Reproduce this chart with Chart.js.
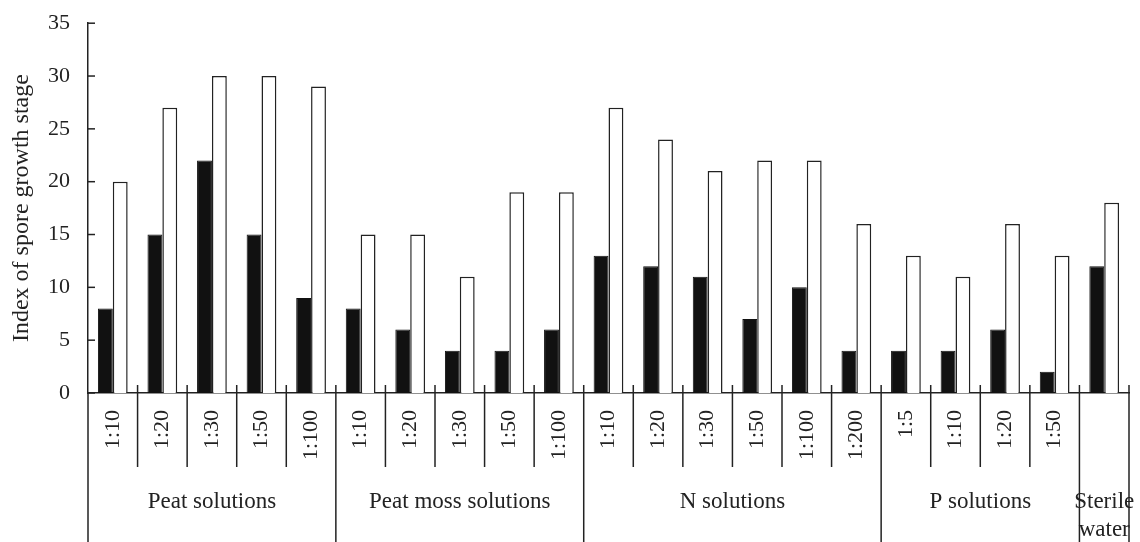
<!DOCTYPE html>
<html>
<head>
<meta charset="utf-8">
<script src="https://cdn.jsdelivr.net/npm/chart.js@4.4.0/dist/chart.umd.min.js"></script>
<style>
    body { margin: 0; background: #fff; }
    #wrap { width: 1140px; height: 542px; }
</style>
</head>
<body>
<div id="wrap"><canvas id="sporeChart"></canvas></div>
<script>
// Dilution labels along the x axis (sterile water has none)
const dilutions = ['1:10', '1:20', '1:30', '1:50', '1:100',
    '1:10', '1:20', '1:30', '1:50', '1:100',
    '1:10', '1:20', '1:30', '1:50', '1:100', '1:200',
    '1:5', '1:10', '1:20', '1:50',
    ''];
const blackValues = [8, 15, 22, 15, 9, 8, 6, 4, 4, 6, 13, 12, 11, 7, 10, 4, 4, 4, 6, 2, 12];
const whiteValues = [20, 27, 30, 30, 29, 15, 15, 11, 19, 19, 27, 24, 21, 22, 22, 16, 13, 11, 16, 13, 18];

// Groups under the dilution labels
const groupNames = ['Peat solutions', 'Peat moss solutions', 'N solutions', 'P solutions', ['Sterile', 'water']];
const groupSizes = [5, 5, 6, 4, 1];

const yTicks = [0, 5, 10, 15, 20, 25, 30, 35];

const FONT = 'Liberation Serif';
const INK = '#222';

// Draws inward y ticks, category dividers and group labels below the axis
const dividerPlugin = {
    id: 'dividers',
    afterDraw(chart) {
        const ctx = chart.ctx;
        const x = chart.scales.x;
        const y = chart.scales.y;
        const area = chart.chartArea;
        const half = (x.getPixelForValue(1) - x.getPixelForValue(0)) / 2;
        const edge = i => x.getPixelForValue(i) - half;

        ctx.save();
        ctx.strokeStyle = INK;
        ctx.lineWidth = 1.5;

        // y ticks pointing into the plot
        yTicks.forEach(v => {
            const py = y.getPixelForValue(v);
            ctx.beginPath();
            ctx.moveTo(area.left, py);
            ctx.lineTo(area.left + 7, py);
            ctx.stroke();
        });

        // group boundaries
        const bounds = [0];
        groupSizes.forEach(n => bounds.push(bounds[bounds.length - 1] + n));

        for (let i = 0; i <= dilutions.length; i++) {
            const px = edge(i);
            const isGroup = bounds.includes(i);
            ctx.beginPath();
            ctx.moveTo(px, i === 0 ? area.bottom : area.bottom - 8);
            ctx.lineTo(px, isGroup ? chart.height : area.bottom + 74);
            ctx.stroke();
        }

        ctx.fillStyle = INK;
        ctx.font = '23px "' + FONT + '"';
        ctx.textAlign = 'center';
        ctx.textBaseline = 'middle';
        groupNames.forEach((name, g) => {
            const cx = (edge(bounds[g]) + edge(bounds[g + 1])) / 2;
            const lines = Array.isArray(name) ? name : [name];
            lines.forEach((line, k) => ctx.fillText(line, cx, area.bottom + 109 + k * 28));
        });
        ctx.restore();
    }
};

const ctx = document.getElementById('sporeChart').getContext('2d');
new Chart(ctx, {
    type: 'bar',
    data: {
        labels: dilutions,
        datasets: [{
            data: blackValues,
            backgroundColor: '#111',
            borderColor: '#111',
            borderWidth: 1
        }, {
            data: whiteValues,
            backgroundColor: '#fff',
            borderColor: INK,
            borderWidth: 1.5
        }]
    },
    options: {
        responsive: true,
        maintainAspectRatio: false,
        animation: false,
        layout: { padding: { top: 19, right: 11, left: 0, bottom: 0 } },
        datasets: {
            bar: { categoryPercentage: 0.6, barPercentage: 1.0 }
        },
        plugins: {
            legend: { display: false },
            tooltip: { enabled: false }
        },
        scales: {
            x: {
                grid: { display: false },
                border: { display: true, color: INK, width: 1.5 },
                ticks: {
                    color: INK,
                    font: { family: FONT, size: 22 },
                    minRotation: 90,
                    maxRotation: 90,
                    padding: 9,
                    autoSkip: false
                },
                afterFit: scale => { scale.height = 149; }
            },
            y: {
                min: 0,
                max: 35,
                grid: { display: false },
                border: { display: true, color: INK, width: 1.5 },
                ticks: {
                    stepSize: 5,
                    color: INK,
                    padding: 10,
                    font: { family: FONT, size: 22 }
                },
                title: {
                    display: true,
                    text: 'Index of spore growth stage',
                    color: INK,
                    font: { family: FONT, size: 24 },
                    padding: { top: 7, bottom: 0 }
                },
                afterFit: scale => { scale.width = 88; }
            }
        }
    },
    plugins: [dividerPlugin]
});
</script>
</body>
</html>
